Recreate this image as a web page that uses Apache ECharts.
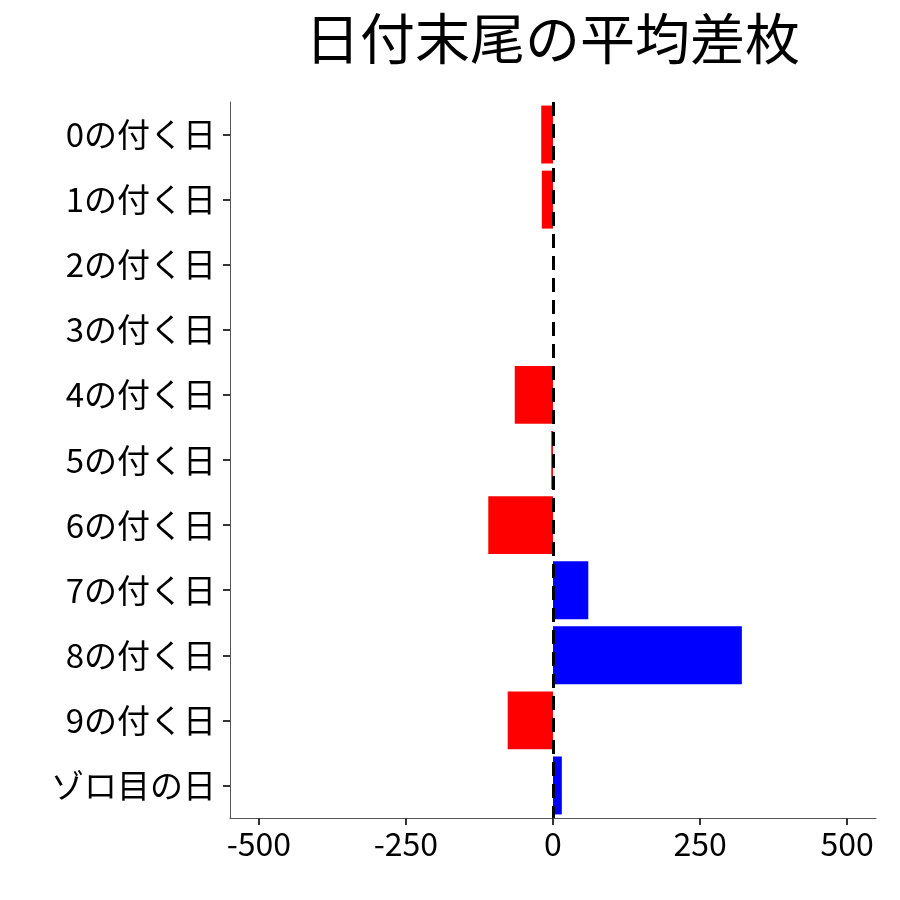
<!DOCTYPE html>
<html><head><meta charset="utf-8">
<script src="https://cdn.jsdelivr.net/npm/echarts@6/dist/echarts.min.js"></script>
<style>html,body{margin:0;padding:0;background:#fff}#c{width:900px;height:900px}</style>
</head><body><div id="c"></div>
<script>
const categories = ['0の付く日','1の付く日','2の付く日','3の付く日','4の付く日','5の付く日','6の付く日','7の付く日','8の付く日','9の付く日','ゾロ目の日'];
const values = [-20, -19, 0, 0, -65, -3, -110, 60, 321, -77, 15];
const xTicks = [-500, -250, 0, 250, 500];
const font = '"Noto Sans CJK JP", sans-serif';
const chart = echarts.init(document.getElementById('c'));
chart.setOption({
  animation: false,
  title: {text: '日付末尾の平均差枚', left: 300, top: 6,
    textStyle: {fontFamily: font, fontSize: 55, fontWeight: 'normal', color: '#000'}},
  grid: {left: 230, right: 24, top: 102, bottom: 82},
  xAxis: {type: 'value', min: -549, max: 549,
    axisLine: {show: true, onZero: false, lineStyle: {color: '#555'}},
    axisTick: {show: true, inside: false, customValues: xTicks, length: 7, lineStyle: {color: '#333', width: 2}},
    axisLabel: {customValues: xTicks, fontFamily: font, fontSize: 32, color: '#000', margin: 10},
    splitLine: {show: false}},
  yAxis: {type: 'category', data: categories, inverse: true,
    axisLine: {show: true, onZero: false, lineStyle: {color: '#555'}},
    axisTick: {show: true, alignWithLabel: true, length: 7, lineStyle: {color: '#333', width: 2}},
    axisLabel: {fontFamily: font, fontSize: 33, color: '#000', margin: 14}},
  series: [{type: 'bar', barCategoryGap: '11%',
    data: values.map(v => ({value: v, itemStyle: {color: v >= 0 ? '#0000ff' : '#ff0000'}})),
    markLine: {symbol: 'none', silent: true, label: {show: false},
      lineStyle: {color: '#000', type: [14, 8], width: 3},
      data: [{xAxis: 0}]}}]
});
</script></body></html>
